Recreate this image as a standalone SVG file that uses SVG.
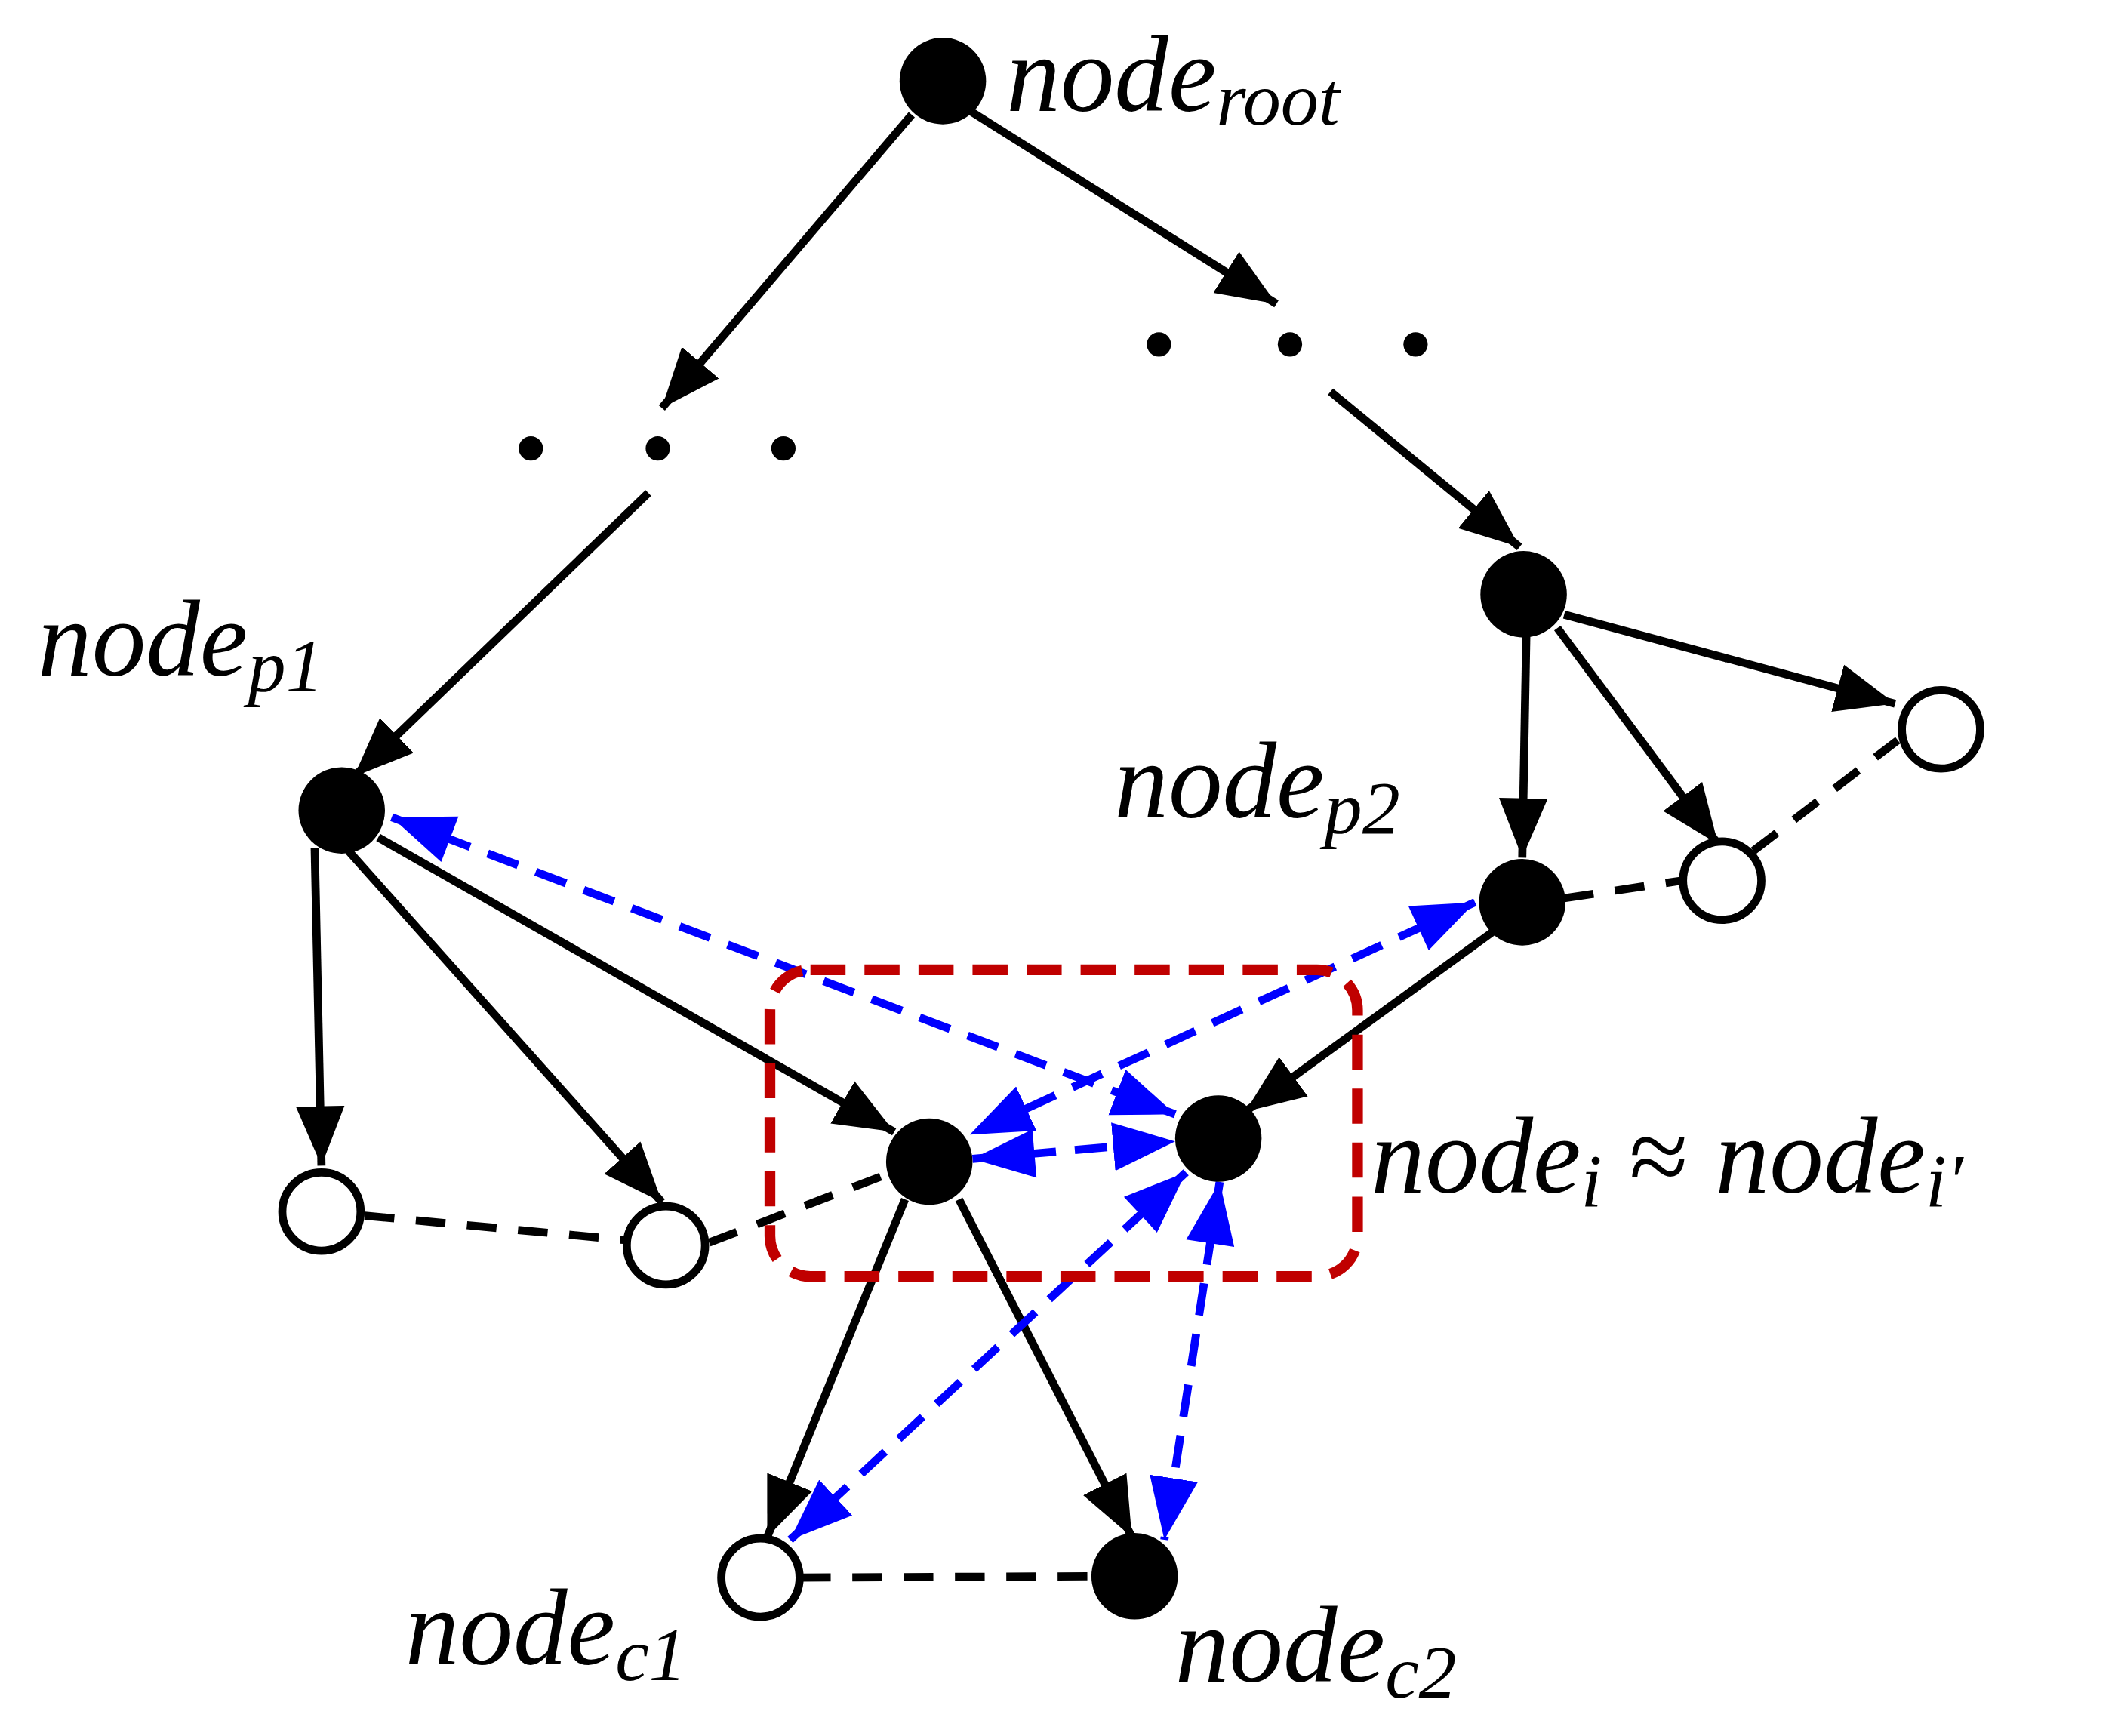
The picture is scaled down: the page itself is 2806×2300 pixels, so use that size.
<svg xmlns="http://www.w3.org/2000/svg" width="2806" height="2300" viewBox="0 0 2806 2300">
<style>
.f{fill:#000}
.o{fill:#fff;stroke:#000;stroke-width:6}
.e{stroke:#000;stroke-width:6;fill:none}
.d{stroke:#000;stroke-width:6;stroke-dasharray:22 16;fill:none}
.b{stroke:#00f;stroke-width:6;stroke-dasharray:24 14;fill:none}
.t{font-family:"Liberation Serif",serif;font-style:italic;font-size:80px;fill:#000}
.s{font-size:56px}
</style>
<defs>
<marker id="ka" markerUnits="userSpaceOnUse" markerWidth="50" markerHeight="40" refX="44" refY="20" orient="auto"><path d="M0,2 L44,20 L0,38 Z" fill="#000"/></marker>
<marker id="be" markerUnits="userSpaceOnUse" markerWidth="50" markerHeight="40" refX="46" refY="20" orient="auto"><path d="M0,2 L46,20 L0,38 Z" fill="#00f"/></marker>
<marker id="bs" markerUnits="userSpaceOnUse" markerWidth="50" markerHeight="40" refX="0" refY="20" orient="auto"><path d="M46,2 L0,20 L46,38 Z" fill="#00f"/></marker>
</defs>
<rect width="2806" height="2300" fill="#fff"/>
<g transform="scale(1.7895)">
<g id="connectors">
<line class="e" x1="675" y1="85" x2="490" y2="302" marker-end="url(#ka)"/>
<line class="e" x1="718" y1="82" x2="945" y2="225" marker-end="url(#ka)"/>
<line class="e" x1="985" y1="290" x2="1125" y2="405" marker-end="url(#ka)"/>
<line class="e" x1="480" y1="365" x2="262" y2="575" marker-end="url(#ka)"/>
<line class="e" x1="1158" y1="455" x2="1403" y2="521" marker-end="url(#ka)"/>
<line class="e" x1="1153" y1="465" x2="1272" y2="625" marker-end="url(#ka)"/>
<line class="e" x1="1130" y1="470" x2="1127" y2="635" marker-end="url(#ka)"/>
<line class="e" x1="233" y1="628" x2="238" y2="863" marker-end="url(#ka)"/>
<line class="e" x1="258" y1="630" x2="490" y2="890" marker-end="url(#ka)"/>
<line class="e" x1="280" y1="620" x2="662" y2="838" marker-end="url(#ka)"/>
<line class="e" x1="1105" y1="690" x2="922" y2="823" marker-end="url(#ka)"/>
<line class="e" x1="670" y1="888" x2="568" y2="1138" marker-end="url(#ka)"/>
<line class="e" x1="710" y1="888" x2="838" y2="1138" marker-end="url(#ka)"/>
<line class="d" x1="1158" y1="665" x2="1245" y2="652"/>
<line class="d" x1="1298" y1="630" x2="1405" y2="548"/>
<line class="d" x1="270" y1="900" x2="462" y2="918"/>
<line class="d" x1="525" y1="920" x2="655" y2="870"/>
<line class="d" x1="593" y1="1168" x2="808" y2="1167"/>
<line class="b" x1="290" y1="605" x2="870" y2="825" marker-start="url(#bs)" marker-end="url(#be)"/>
<line class="b" x1="1092" y1="668" x2="718" y2="840" marker-start="url(#bs)" marker-end="url(#be)"/>
<line class="b" x1="720" y1="858" x2="870" y2="845" marker-start="url(#bs)" marker-end="url(#be)"/>
<line class="b" x1="878" y1="868" x2="585" y2="1140" marker-start="url(#bs)" marker-end="url(#be)"/>
<line class="b" x1="903" y1="875" x2="862" y2="1140" marker-start="url(#bs)" marker-end="url(#be)"/>
<rect x="570" y="718" width="435" height="227" rx="30" fill="none" stroke="#c00000" stroke-width="8" stroke-dasharray="26 14"/>
</g>
<g id="root"><circle class="f" cx="698" cy="60" r="32"/><text class="t" x="745" y="82">node<tspan class="s" dy="10">root</tspan></text></g>
<g id="dotsL"><circle class="f" cx="393" cy="332" r="9"/><circle class="f" cx="487" cy="332" r="9"/><circle class="f" cx="580" cy="332" r="9"/></g>
<g id="dotsR"><circle class="f" cx="858" cy="255" r="9"/><circle class="f" cx="955" cy="255" r="9"/><circle class="f" cx="1048" cy="255" r="9"/></g>
<g id="nA"><circle class="f" cx="1128" cy="440" r="32"/></g>
<g id="nB"><circle class="o" cx="1437" cy="540" r="29"/></g>
<g id="nC"><circle class="o" cx="1275" cy="652" r="29"/></g>
<g id="p2"><circle class="f" cx="1127" cy="668" r="32"/><text class="t" x="825" y="605">node<tspan class="s" dy="12">p2</tspan></text></g>
<g id="p1"><circle class="f" cx="253" cy="600" r="32"/><text class="t" x="28" y="500">node<tspan class="s" dy="12">p1</tspan></text></g>
<g id="nD"><circle class="o" cx="238" cy="897" r="29"/></g>
<g id="nE"><circle class="o" cx="493" cy="922" r="29"/></g>
<g id="ni"><circle class="f" cx="688" cy="860" r="32"/></g>
<g id="nii"><circle class="f" cx="902" cy="843" r="32"/><text class="t" x="1015" y="883">node<tspan class="s" dy="10">i</tspan><tspan dy="-10" font-style="normal"> ≈ </tspan>node<tspan class="s" dy="10">i′</tspan></text></g>
<g id="c1"><circle class="o" cx="563" cy="1168" r="29"/><text class="t" x="300" y="1232">node<tspan class="s" dy="12">c1</tspan></text></g>
<g id="c2"><circle class="f" cx="840" cy="1167" r="32"/><text class="t" x="870" y="1245">node<tspan class="s" dy="12">c2</tspan></text></g>
</g>
</svg>
